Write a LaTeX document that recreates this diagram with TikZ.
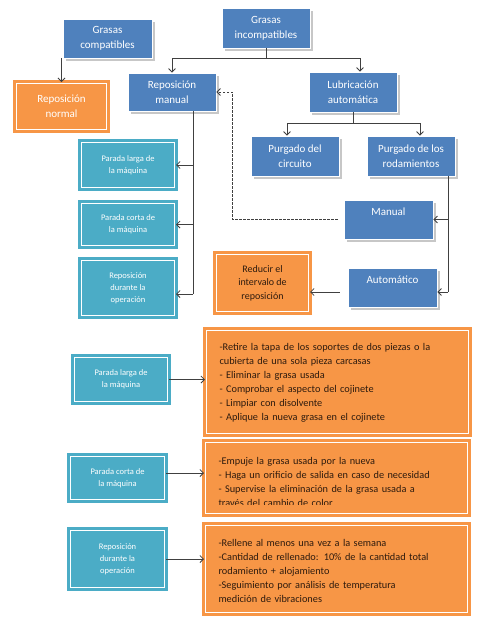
\documentclass[tikz,border=0pt]{standalone}
\usepackage{fontspec}
\setmainfont{Carlito}
\usetikzlibrary{arrows.meta,shadows}
\definecolor{bluef}{HTML}{4F81BD}
\definecolor{tealf}{HTML}{4BACC6}
\definecolor{orangef}{HTML}{F79646}
\definecolor{textdark}{HTML}{2E1B0E}
\definecolor{linec}{HTML}{404040}
\begin{document}
\begin{tikzpicture}[x=1pt,y=-1pt,
  bluebox/.style={rectangle, fill=bluef, draw=white, line width=0.8pt, text=white,
    font=\fontsize{11}{15}\selectfont, align=center, inner sep=0pt,
    drop shadow={shadow xshift=2.5pt, shadow yshift=-2.5pt, fill=black!22, opacity=1}},
  tealbox/.style={rectangle, fill=tealf, draw=tealf, double=white, double distance=1.2pt,
    line width=3pt, text=white, font=\fontsize{8.5}{12}\selectfont, align=center, inner sep=0pt},
  orbox/.style={rectangle, fill=orangef, draw=orangef, double=white, double distance=1.2pt,
    line width=3pt, text=textdark, font=\fontsize{10}{14}\selectfont, align=center, inner sep=0pt},
  otext/.style={text=textdark, font=\fontsize{10.3}{14}\selectfont, align=left, text width=236pt, inner sep=0pt},
  conn/.style={draw=linec, line width=0.8pt},
  arr/.style={conn, -{Straight Barb[length=3.5pt,width=7pt]}}]
\useasboundingbox[fill=white] (0,0) rectangle (490,621);

% blue boxes
\node[bluebox, minimum width=89, minimum height=39] (gc) at (107.5,38.5) {Grasas\\compatibles};
\node[bluebox, minimum width=88, minimum height=40] (gi) at (266,28) {Grasas\\incompatibles};
\node[bluebox, minimum width=88, minimum height=38] (rm) at (172,92) {Reposición\\manual};
\node[bluebox, minimum width=88, minimum height=40] (la) at (353,92) {Lubricación\\automática};
\node[bluebox, minimum width=88, minimum height=40] (pc) at (295,156) {Purgado del\\circuito};
\node[bluebox, minimum width=88, minimum height=40] (pr) at (411,156) {Purgado de los\\rodamientos};
\node[bluebox, minimum width=89, minimum height=39] (man) at (388.5,219.5) {Manual\\\mbox{}};
\node[bluebox, minimum width=89, minimum height=39] (aut) at (392.5,287.5) {Automático\\\mbox{}};

% orange boxes
\node[orbox, text=white, font=\fontsize{11}{15}\selectfont, minimum width=90, minimum height=46] (rn) at (61.5,106.5) {Reposición\\normal};
\node[orbox, font=\fontsize{10}{13.5}\selectfont, minimum width=92, minimum height=57] (ri) at (262.5,283) {Reducir el\\intervalo de\\reposición};
\node[orbox, minimum width=262, minimum height=103] (o1) at (337.5,382) {};
\node[otext] (o1t) at (337.5,383) {-Retire la tapa de los soportes de dos piezas o la\\cubierta de una sola pieza carcasas\\- Eliminar la grasa usada\\- Comprobar el aspecto del cojinete\\- Limpiar con disolvente\\- Aplique la nueva grasa en el cojinete};
\node[orbox, minimum width=262, minimum height=71] (o2) at (336.5,478) {};
\begin{scope}
  \clip (o2.north west) rectangle (o2.east |- 0,504);
  \node[otext] (o2t) at (336.5,482) {-Empuje la grasa usada por la nueva\\- Haga un orificio de salida en caso de necesidad\\- Supervise la eliminación de la grasa usada a\\través del cambio de color};
\end{scope}
\node[orbox, minimum width=262, minimum height=87] (o3) at (336.5,569) {};
\node[otext] (o3t) at (336.5,571) {-Rellene al menos una vez a la semana\\-Cantidad de rellenado: 10\% de la cantidad total\\rodamiento + alojamiento\\-Seguimiento por análisis de temperatura\\medición de vibraciones};

% teal boxes
\node[tealbox, minimum width=93, minimum height=45] (t1) at (128,165) {Parada larga de\\la máquina};
\node[tealbox, minimum width=93, minimum height=42] (t2) at (128,224.5) {Parada corta de\\la máquina};
\node[tealbox, minimum width=93, minimum height=55] (t3) at (128,288) {Reposición\\durante la\\operación};
\node[tealbox, minimum width=93, minimum height=44] (b1) at (121,379.5) {Parada larga de\\la máquina};
\node[tealbox, minimum width=94, minimum height=43] (b2) at (117.5,478) {Parada corta de\\la máquina};
\node[tealbox, minimum width=94, minimum height=57] (b3) at (117.5,559) {Reposición\\durante la\\operación};

% connectors
\draw[arr] (rn.north |- gc.south) -- (rn.north);

\coordinate (gib) at ([yshift=-10pt]gi.south);
\draw[conn] (gi.south) -- (gib);
\draw[arr] (gib) -| (rm.north);
\draw[arr] (gib) -| ([xshift=7pt]la.north);

\coordinate (lab) at ([yshift=-11pt]la.south);
\draw[conn] (la.south) -- (lab);
\draw[arr] (lab) -| ([xshift=-8pt]pc.north);
\draw[arr] (lab) -| ([xshift=9pt]pr.north);

\coordinate (prs) at ([xshift=37pt]pr.south);
\coordinate (ae) at ([yshift=-4.5pt]aut.east);
\draw[conn] (prs) -- (prs |- ae);
\draw[arr] (prs |- man.east) -- (man.east);
\draw[arr] (prs |- ae) -- (ae);

\coordinate (mw) at ([xshift=-6pt]man.west);
\draw[arr, dash pattern=on 2.5pt off 1.5pt] (mw) -- ++(-105,0) |- (rm.east);

\coordinate (aw) at ([xshift=-8pt,yshift=-4.5pt]aut.west);
\draw[arr] (aw) -- (aw -| ri.east);

\coordinate (rms) at ([xshift=21pt]rm.south);
\coordinate (t3e) at ([yshift=-6pt]t3.east);
\draw[conn] (rms) -- (rms |- t3e);
\draw[arr] (rms |- t1.east) -- (t1.east);
\draw[arr] (rms |- t2.east) -- (t2.east);
\draw[arr] (rms |- t3e) -- (t3e);

\draw[arr] (b1.east) -- (b1.east -| o1.west);
\coordinate (b2e) at ([yshift=5pt]b2.east);
\draw[arr] (b2e) -- (b2e -| o2.west);
\draw[arr] (b3.east) -- (b3.east -| o3.west);
\end{tikzpicture}
\end{document}
